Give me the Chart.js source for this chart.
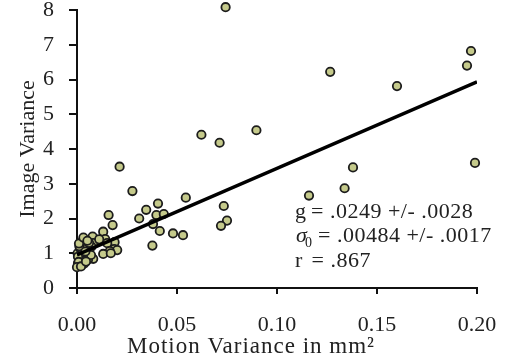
<!DOCTYPE html>
<html>
<head>
<meta charset="utf-8">
<script src="https://cdn.jsdelivr.net/npm/chart.js@4.4.1/dist/chart.umd.min.js"></script>
<style>
	html, body { margin: 0; padding: 0; background: #fff; }
</style>
</head>
<body>
<canvas id="chart" width="511" height="356"></canvas>
<script>
const SERIF = '"Liberation Serif", "DejaVu Serif", serif';
const TEXT_COLOR = "#222";

// scatter values
const motionVariance = [
	0.0743, 0.0622, 0.0713, 0.0897, 0.0213, 0.1266, 0.160, 0.197, 0.195, 0.138,
	0.199, 0.116, 0.1338, 0.0277, 0.0405, 0.0346, 0.0311, 0.0397, 0.0434, 0.038,
	0.0414, 0.048, 0.0377, 0.0544, 0.053, 0.0734, 0.075, 0.072, 0.0158, 0.0178,
	0.0131, 0.0141, 0.0188, 0.0151, 0.0186, 0.0201, 0.0164, 0.0131, 0.0081, 0.0078,
	0.0081, 0.0111, 0.0039, 0.0072, 0.0169, 0.0005, 0.0003, 0.001, 0.002, 0.003,
	0.0015, 0.004, 0.005, 0.006, 0.0025, 0.0045, 0.006, 0.001, 0.0035, 0.0005,
	0.0055, 0.007, 0.0012, 0.0028, 0.0042, 0.0008, 0.0, 0.002, 0.0045, 0.001,
	0.0032, 0.0052,
];
const imageVariance = [
	8.08, 4.41, 4.18, 4.54, 3.49, 6.22, 5.81, 6.82, 6.40, 3.47,
	3.60, 2.66, 2.87, 2.79, 2.43, 2.25, 2.00, 2.10, 2.13, 1.84,
	1.64, 1.57, 1.22, 2.60, 1.52, 2.36, 1.94, 1.79, 2.10, 1.81,
	1.62, 1.41, 1.32, 1.29, 1.12, 1.09, 1.06, 0.98, 0.84, 1.48,
	1.29, 1.40, 1.14, 1.19, 1.00, 0.71, 1.00, 0.85, 0.95, 1.05,
	1.15, 0.90, 1.00, 1.10, 0.78, 1.25, 1.30, 0.65, 0.70, 0.90,
	0.82, 0.95, 1.20, 1.35, 1.05, 0.75, 0.60, 0.62, 0.76, 1.28,
	1.45, 1.36,
];
// fitted line end points
const fitX = [0, 0.2];
const fitY = [0.95, 5.93];

const xTicks = [0, 0.05, 0.1, 0.15, 0.2];
const yTicks = [0, 1, 2, 3, 4, 5, 6, 7, 8];

const xTitle = "Motion Variance in mm\u00b2";
const yTitle = "Image Variance";
const statNames = ["g", "\u03c3", "r"];
const statValues = ["= .0249 +/- .0028", "= .00484 +/- .0017", "= .867"];

const points = motionVariance.map((x, i) => ({ x: x, y: imageVariance[i] }));
const fitLine = fitX.map((x, i) => ({ x: x, y: fitY[i] }));

const textPlugin = {
	id: "texts",
	afterDraw: (chart) => {
		var ctx = chart.ctx;
		ctx.save();
		ctx.fillStyle = TEXT_COLOR;
		ctx.textBaseline = "alphabetic";
		ctx.textAlign = "left";
		ctx.letterSpacing = "0.5px";
		ctx.font = `22px ${SERIF}`;
		ctx.fillText(statNames[0], 295, 218);
		ctx.fillText(statValues[0], 311, 218);
		ctx.font = `italic 22px ${SERIF}`;
		ctx.fillText(statNames[1], 296, 242);
		ctx.font = `14px ${SERIF}`;
		ctx.fillText("0", 305, 247);
		ctx.font = `22px ${SERIF}`;
		ctx.fillText(statValues[1], 318, 242);
		ctx.fillText(statNames[2], 295, 266.5);
		ctx.fillText(statValues[2], 311.5, 266.5);
		// x title sits a bit left of the axis centre
		ctx.textAlign = "center";
		ctx.letterSpacing = "1px";
		ctx.font = `23px ${SERIF}`;
		ctx.fillText(xTitle, 251, 353);
		ctx.restore();
	},
};

new Chart(document.getElementById("chart"), {
	data: {
		datasets: [
			{
				type: "line",
				data: fitLine,
				borderColor: "#000",
				borderWidth: 3.5,
				pointRadius: 0,
				order: 0,
			},
			{
				type: "scatter",
				data: points,
				backgroundColor: "#c5ca8b",
				borderColor: "#1c1c1c",
				borderWidth: 1.8,
				pointRadius: 4.2,
				clip: false,
				order: 1,
			},
		],
	},
	plugins: [textPlugin],
	options: {
		responsive: false,
		animation: false,
		devicePixelRatio: 1,
		layout: { padding: { top: 10, right: 34, bottom: 0, left: 0 } },
		plugins: {
			legend: { display: false },
			tooltip: { enabled: false },
		},
		scales: {
			x: {
				type: "linear",
				min: 0,
				max: 0.2,
				afterBuildTicks: (scale) => {
					scale.ticks = xTicks.map((v) => ({ value: v }));
				},
				afterFit: (scale) => {
					scale.height = 68;
					scale.paddingLeft = 0;
					scale.paddingRight = 0;
				},
				ticks: {
					callback: (v) => v.toFixed(2),
					color: TEXT_COLOR,
					font: { family: SERIF, size: 22, lineHeight: 1 },
					padding: 20,
					maxRotation: 0,
					autoSkip: false,
				},
				grid: {
					drawOnChartArea: false,
					drawTicks: true,
					tickLength: 6,
					color: "#111",
					lineWidth: 2,
				},
				border: { color: "#111", width: 2 },
			},
			y: {
				type: "linear",
				min: 0,
				max: 8,
				afterBuildTicks: (scale) => {
					scale.ticks = yTicks.map((v) => ({ value: v }));
				},
				afterFit: (scale) => {
					scale.width = 77;
					scale.paddingTop = 0;
					scale.paddingBottom = 0;
				},
				ticks: {
					color: TEXT_COLOR,
					font: { family: SERIF, size: 22, lineHeight: 0.9 },
					padding: 15,
					autoSkip: false,
				},
				grid: {
					drawOnChartArea: false,
					drawTicks: true,
					tickLength: 8,
					color: "#111",
					lineWidth: 2,
				},
				border: { color: "#111", width: 2 },
				title: {
					display: true,
					text: yTitle,
					color: TEXT_COLOR,
					font: { family: SERIF, size: 22, lineHeight: 1.2 },
					padding: { top: 15, bottom: 0 },
				},
			},
		},
	},
});
</script>
</body>
</html>
